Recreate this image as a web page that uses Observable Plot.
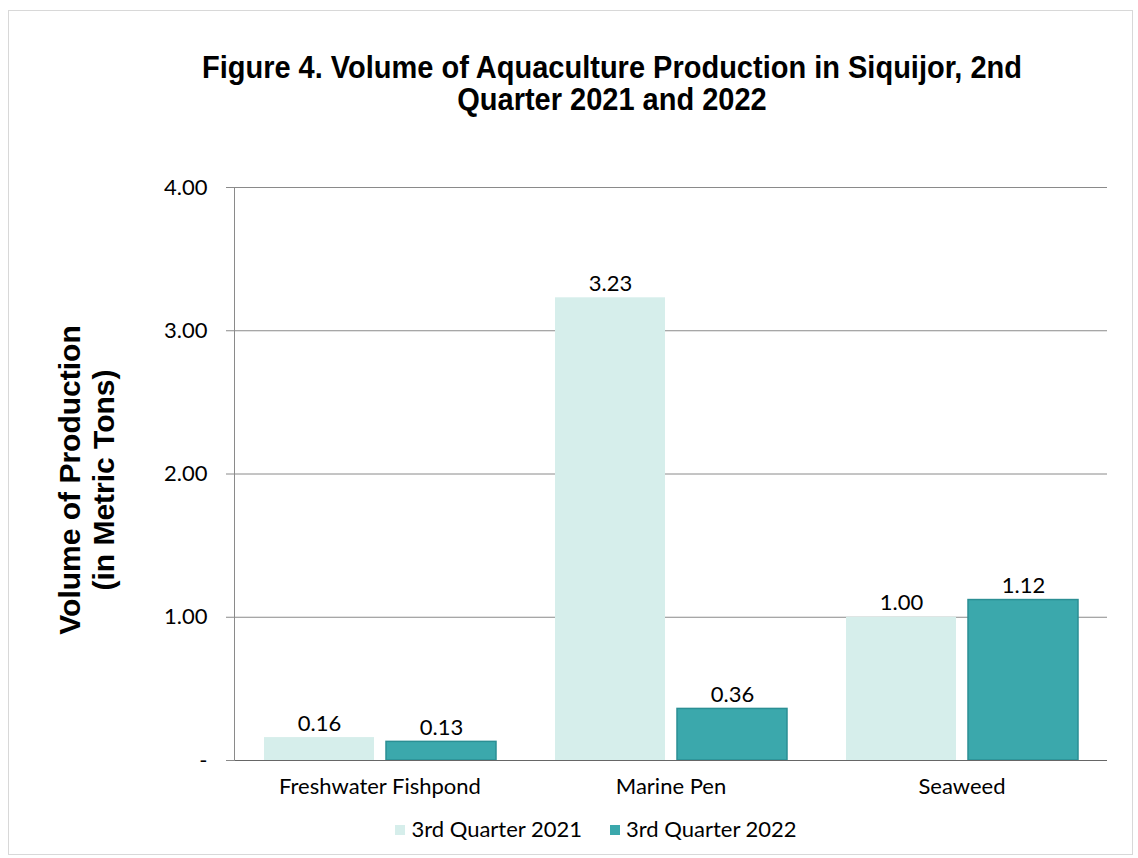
<!DOCTYPE html>
<html>
<head>
<meta charset="utf-8">
<script src="https://cdn.jsdelivr.net/npm/d3@7"></script>
<script src="https://cdn.jsdelivr.net/npm/@observablehq/plot@0.6"></script>
<style>
  html, body { margin: 0; padding: 0; background: #fff; }
  #wrap { position: relative; width: 1138px; height: 858px; overflow: hidden; }
  #border { position: absolute; left: 8px; top: 10px; width: 1125px; height: 845px; border: 1px solid #d8d8d8; box-sizing: border-box; }
  #title { position: absolute; left: 0; top: 52px; width: 1224px; text-align: center;
    font-family: "Liberation Sans", Arial, sans-serif; font-weight: bold; font-size: 29px; line-height: 29px; color: #000;
    transform: scaleY(1.1); transform-origin: 50% 0; }
  #ylabel { position: absolute; left: 87px; top: 480px; width: 400px; margin-left: -200px; margin-top: -34px;
    text-align: center; transform: rotate(-90deg); transform-origin: 50% 50%;
    font-family: "Liberation Sans", Arial, sans-serif; font-weight: bold; font-size: 30px; line-height: 34px; color: #000; }
  #chart { position: absolute; left: 0; top: 140px; }
  #legend { position: absolute; left: 0; top: 815px; width: 1192px; text-align: center;
    font-family: Lato, "Open Sans", sans-serif; font-size: 22px; color: #000; }
  .item { display: inline-block; margin: 0 14px; }
  .sw { display: inline-block; width: 10px; height: 10px; margin-right: 6px; vertical-align: 2px; }
</style>
</head>
<body>
<div id="wrap">
  <div id="border"></div>
  <div id="title">Figure 4. Volume of Aquaculture Production in Siquijor, 2nd<br>Quarter 2021 and 2022</div>
  <div id="ylabel">Volume of Production<br>(in Metric Tons)</div>
  <div id="chart"></div>
  <div id="legend"></div>
</div>
<script>
const categories = ["Freshwater Fishpond", "Marine Pen", "Seaweed"];
const series = ["3rd Quarter 2021", "3rd Quarter 2022"];
const values2021 = [0.16, 3.23, 1.00];
const values2022 = [0.13, 0.36, 1.12];
const colors = ["#d6eeeb", "#3ba8ac"];
const yTicks = [0, 1, 2, 3, 4];

const data = [];
categories.forEach((c, i) => {
  data.push({category: c, series: series[0], value: values2021[i]});
  data.push({category: c, series: series[1], value: values2022[i]});
});

const fmt = d => d === 0 ? "-" : d.toFixed(2);

const chart = Plot.plot({
  width: 1138,
  height: 670,
  marginTop: 47,
  marginBottom: 50,
  marginLeft: 233,
  marginRight: 30,
  style: {fontFamily: "Lato, 'Open Sans', sans-serif", color: "#000", background: "transparent"},
  fx: {domain: categories, padding: 0},
  x: {domain: series, paddingInner: 0.1, paddingOuter: 0.24, axis: null},
  y: {domain: [0, 4]},
  color: {domain: series, range: colors},
  marks: [
    Plot.ruleY(yTicks.filter(d => d > 0), {stroke: "#8a8a8a", strokeWidth: 1}),
    Plot.axisY({ticks: yTicks, tickFormat: fmt, tickSize: 8, tickPadding: 19, fontSize: 22, stroke: "#8a8a8a", label: null}),
    Plot.barY(data, {fx: "category", x: "series", y: "value", fill: "series",
      stroke: d => d.series === series[1] ? "#2b8f94" : "none", strokeWidth: 1.5}),
    Plot.ruleY([0], {stroke: "#666", strokeWidth: 1.2}),
    Plot.frame({anchor: "left", stroke: "#8a8a8a", facetAnchor: "left"}),
    Plot.text(data, {fx: "category", x: "series", y: "value", text: d => d.value.toFixed(2),
      lineAnchor: "bottom", dy: -7, fontSize: 22, fill: "#000"}),
    Plot.axisFx({anchor: "bottom", tickSize: 0, tickPadding: 18, fontSize: 22, label: null})
  ]
});
document.getElementById("chart").appendChild(chart);

const legend = document.getElementById("legend");
series.forEach((s, i) => {
  const item = document.createElement("span");
  item.className = "item";
  const sw = document.createElement("span");
  sw.className = "sw";
  sw.style.background = colors[i];
  item.appendChild(sw);
  item.appendChild(document.createTextNode(s));
  legend.appendChild(item);
});
</script>
</body>
</html>
